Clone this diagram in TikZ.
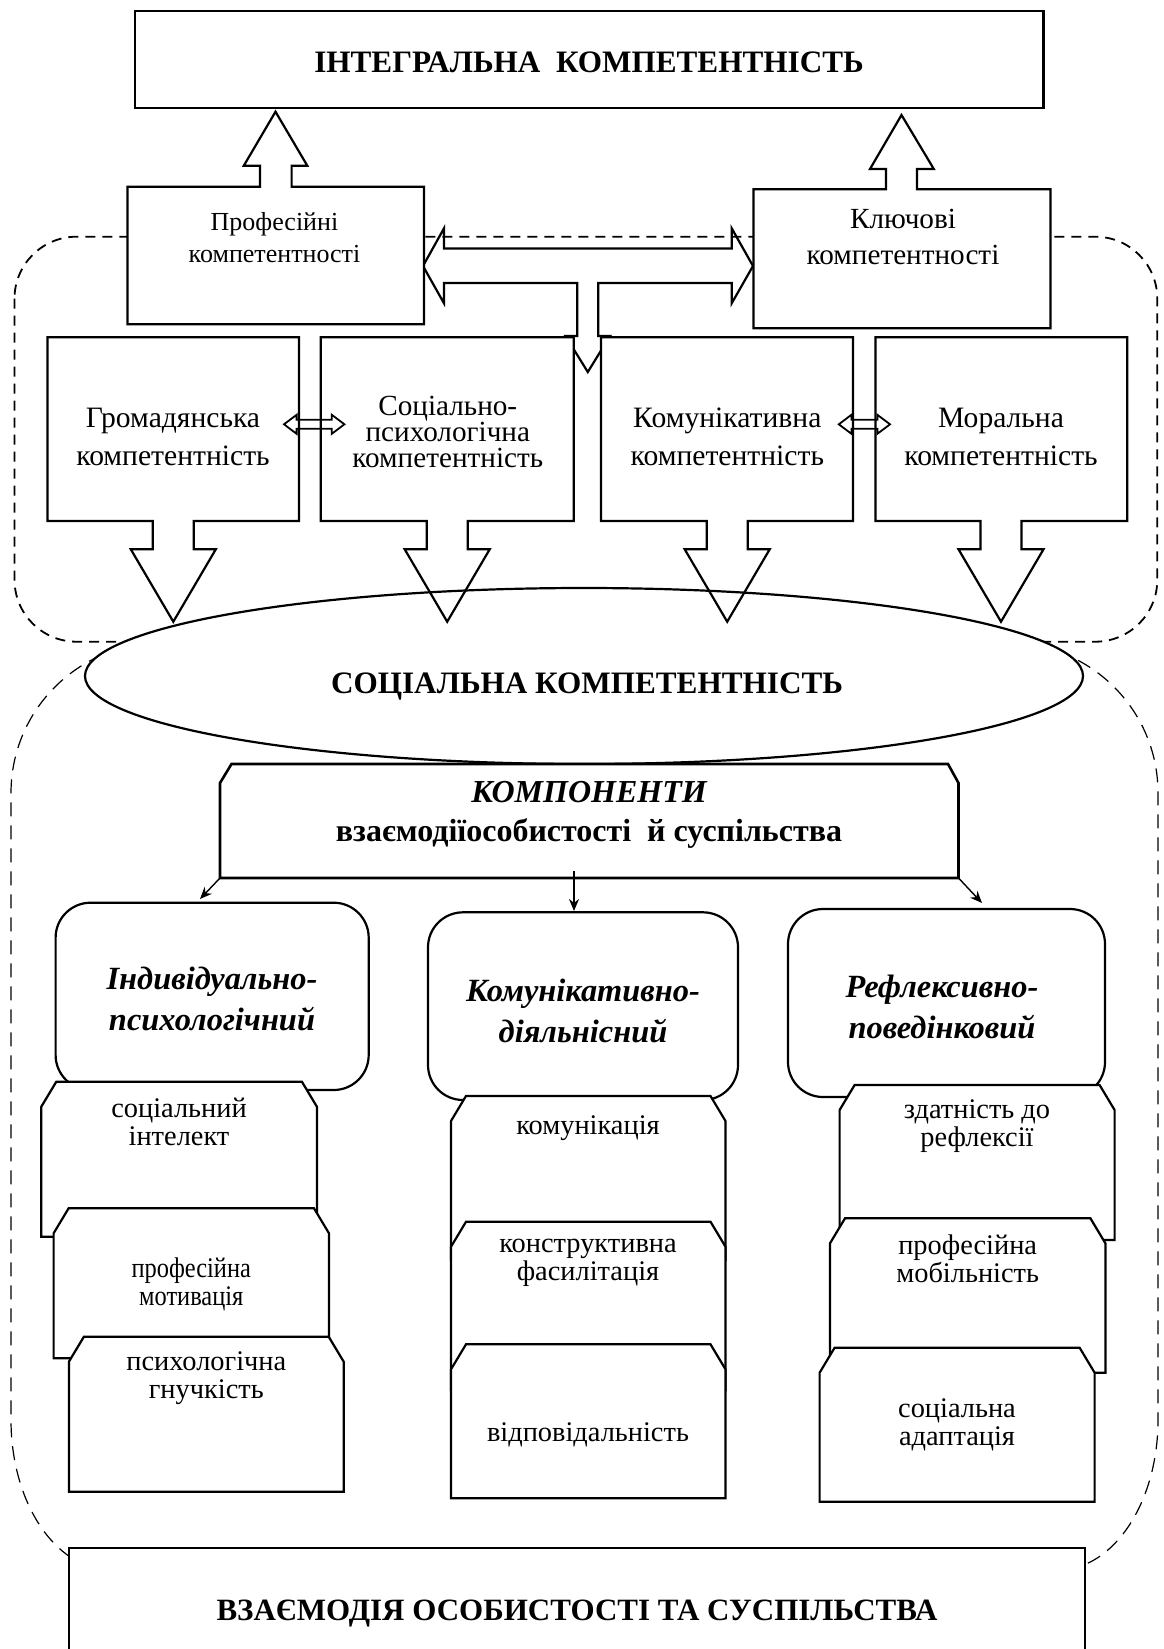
\documentclass[tikz,border=0pt]{standalone}
\usepackage{fontspec}
\setmainfont{Liberation Serif}
\newfontfamily\narrowserif[FakeStretch=0.86]{Liberation Serif}
\usetikzlibrary{arrows.meta}

% chamfered box (top corners cut): x1, x2, top, bottom
\newcommand{\snipbox}[4]{%
  \path[boxline, fill=white] (#1,#3+25) -- (#1+15,#3) -- (#2-15,#3) -- (#2,#3+25)
    -- (#2,#4) -- (#1,#4) -- cycle;}
% box with a down arrow below it: left, right, arrow axis
\newcommand{\downcallout}[3]{%
  (#1,337.3) -- (#2,337.3) -- (#2,521) -- (#3+20.5,521) -- (#3+20.5,549.3)
  -- (#3+42.5,549.3) -- (#3,621.7) -- (#3-42.5,549.3) -- (#3-20.5,549.3)
  -- (#3-20.5,521) -- (#1,521) -- cycle}
% small two-headed block arrow: left tip, right tip, height
\newcommand{\twinarrow}[3]{%
  \path[boxline, line width=0.9pt] (#1,#3) -- (#1+12.6,#3-9.5) -- (#1+12.6,#3-4.5)
    -- (#2-12.6,#3-4.5) -- (#2-12.6,#3-9.5) -- (#2,#3) -- (#2-12.6,#3+9.5)
    -- (#2-12.6,#3+4.5) -- (#1+12.6,#3+4.5) -- (#1+12.6,#3+9.5) -- cycle;}

\begin{document}
\begin{tikzpicture}[x=0.5pt, y=-0.5pt, line join=miter,
  boxline/.style={draw, line width=1.1pt},
  groupA/.style={draw, line width=0.9pt, dash pattern=on 5pt off 3.5pt},
  groupB/.style={draw, line width=0.6pt, dash pattern=on 7pt off 4.5pt},
  lbl/.style={align=center, inner sep=0pt},
  plain/.style={lbl, font=\fontsize{14.8pt}{19pt}\selectfont},
  item/.style={lbl, font=\fontsize{14.2pt}{14pt}\selectfont},
  title/.style={lbl, font=\fontsize{15.6pt}{19.5pt}\selectfont\bfseries},
  facet/.style={lbl, font=\fontsize{16.2pt}{20.5pt}\selectfont\bfseries\itshape},
  link/.style={draw, line width=0.7pt, -{Stealth[length=6pt,width=5pt]}}]
\useasboundingbox (0,0) rectangle (1163,1649);
\fill[white] (0,0) rectangle (1163,1649);

% outer dashed frame of the lower part
\path[groupB] (161,643) -- (1008,643) .. controls (1090.8,643) and (1158,710.2) .. (1158,793)
  -- (1158,1420) .. controls (1158,1502.8) and (1113.2,1570) .. (1058,1570)
  -- (111,1570) .. controls (55.8,1570) and (11,1502.8) .. (11,1420)
  -- (11,793) .. controls (11,710.2) and (78.2,643) .. cycle;

% dashed frame round the competences
\path[groupA, rounded corners=31pt] (14.5,236.7) rectangle (1157.3,641.7);

% central ellipse
\path[boxline, fill=white] (584,676) ellipse [x radius=249.5pt, y radius=44pt];

% two-headed arrow with its downward branch
\path[boxline] (444,248.5) -- (731.7,248.5) -- (731.7,228.3) -- (753,266) -- (731.7,303.3)
  -- (731.7,283) -- (598.3,283) -- (598.3,336) -- (610,336) -- (587.8,372) -- (565.5,336)
  -- (577.3,336) -- (577.3,283) -- (444,283) -- (444,303.3) -- (423,266) -- (444,228.3) -- cycle;

% upper competence boxes with upward arrows
\path[boxline, fill=white] (127.4,186.7) -- (260,186.7) -- (260,165.7) -- (243.8,165.7)
  -- (275.5,111.7) -- (307.3,165.7) -- (291.6,165.7) -- (291.6,186.7) -- (424,186.7)
  -- (424,324.3) -- (127.4,324.3) -- cycle;
\path[boxline, fill=white] (753.5,189.3) -- (886,189.3) -- (886,169) -- (870,169)
  -- (901.5,115) -- (933.8,169) -- (917,169) -- (917,189.3) -- (1050.4,189.3)
  -- (1050.4,328.3) -- (753.5,328.3) -- cycle;

% top box
\path[boxline, fill=white] (135,11) rectangle (1043.5,108);

% four competence boxes with downward arrows
\fill[white] (47.5,337.3) rectangle (299,521);
\fill[white] (320.7,337.3) rectangle (573.7,521);
\fill[white] (601,337.3) rectangle (853,521);
\fill[white] (875.4,337.3) rectangle (1127.3,521);
\path[boxline] \downcallout{47.5}{299}{173.3};
\path[boxline] \downcallout{320.7}{573.7}{447.2};
\path[boxline] \downcallout{601}{853}{727.2};
\path[boxline] \downcallout{875.4}{1127.3}{1001};
\twinarrow{284}{344.4}{424.3}
\twinarrow{838.8}{890}{424.3}

% components box
\path[boxline, line width=1.3pt, fill=white] (220,783) -- (231.5,764) -- (948,764) -- (958.5,783)
  -- (958.5,878) -- (220,878) -- cycle;

% three component headers
\path[boxline, fill=white, rounded corners=17.5pt] (55.6,902.7) rectangle (368.7,1090);
\path[boxline, fill=white, rounded corners=17.5pt] (428,912.3) rectangle (738,1100);
\path[boxline, fill=white, rounded corners=17.5pt] (788,909) rectangle (1105,1097);

% stacked indicator boxes
\snipbox{41.3}{316.9}{1081.7}{1236.7}
\snipbox{53.6}{329}{1208.3}{1358.3}
\snipbox{68.9}{343.7}{1336.7}{1491.7}
\snipbox{451}{725.5}{1096}{1260}
\snipbox{451}{725.5}{1221.7}{1390}
\snipbox{451}{725.5}{1344.3}{1498.3}
\snipbox{839.6}{1114.6}{1085}{1240}
\snipbox{830}{1105.4}{1218.3}{1372.7}
\snipbox{819.6}{1094.6}{1347.7}{1501.7}

% bottom box
\path[boxline, fill=white] (69,1548.3) rectangle (1084.6,1680);

% texts
\node[title] (integral) at (589,62) {ІНТЕГРАЛЬНА\ \ КОМПЕТЕНТНІСТЬ};
\node[lbl, font=\fontsize{13pt}{16pt}\selectfont] (prof) at (274.5,238) {Професійні\\компетентності};
\node[lbl, font=\fontsize{14.6pt}{18pt}\selectfont] (key) at (903,237) {Ключові\\компетентності};
\node[plain] (civic) at (173,437) {Громадянська\\компетентність};
\node[lbl, font=\fontsize{14.6pt}{13pt}\selectfont] (socpsy) at (447.8,432) {Соціально-\\психологічна\\компетентність};
\node[plain] (commc) at (727.3,437) {Комунікативна\\компетентність};
\node[plain] (moral) at (1001,437) {Моральна\\компетентність};
\node[title] (social) at (587,686) {СОЦІАЛЬНА КОМПЕТЕНТНІСТЬ};
\node[title, font=\fontsize{16pt}{19.5pt}\selectfont\bfseries] (comp) at (589,815) {\itshape КОМПОНЕНТИ\\взаємодіїособистості\ \ й суспільства};
\node[facet] (indiv) at (212,999) {Індивідуально-\\психологічний};
\node[facet] (commact) at (583,1011) {Комунікативно-\\діяльнісний};
\node[facet] (reflex) at (942,1007) {Рефлексивно-\\поведінковий};
\node[item] (i11) at (179,1122) {соціальний\\інтелект};
\node[item, font=\narrowserif\fontsize{14.2pt}{14pt}\selectfont] (i12) at (191.3,1284) {професійна\\мотивація};
\node[item] (i13) at (206.3,1378) {психологічна\\гнучкість};
\node[item] (i21) at (588,1128) {комунікація};
\node[item] (i22) at (588,1262.5) {конструктивна\\фасилітація};
\node[item] (i23) at (588,1435) {відповідальність};
\node[item] (i31) at (977,1126) {здатність до\\рефлексії};
\node[item] (i32) at (967.7,1258.5) {професійна\\мобільність};
\node[item] (i33) at (957,1425) {соціальна\\адаптація};
\node[title, font=\fontsize{15.5pt}{19pt}\selectfont\bfseries] (society) at (577,1614) {ВЗАЄМОДІЯ ОСОБИСТОСТІ ТА СУСПІЛЬСТВА};

% arrows from the components box
\coordinate (compSW) at (220,878);
\coordinate (compS) at (574,871);
\coordinate (compSE) at (958.5,878);
\coordinate (toIndiv) at (200,899);
\coordinate (toComm) at (574,911);
\coordinate (toRefl) at (982,903);
\draw[link] (compSW) -- (toIndiv);
\draw[link] (compS) -- (toComm);
\draw[link] (compSE) -- (toRefl);
\end{tikzpicture}
\end{document}
